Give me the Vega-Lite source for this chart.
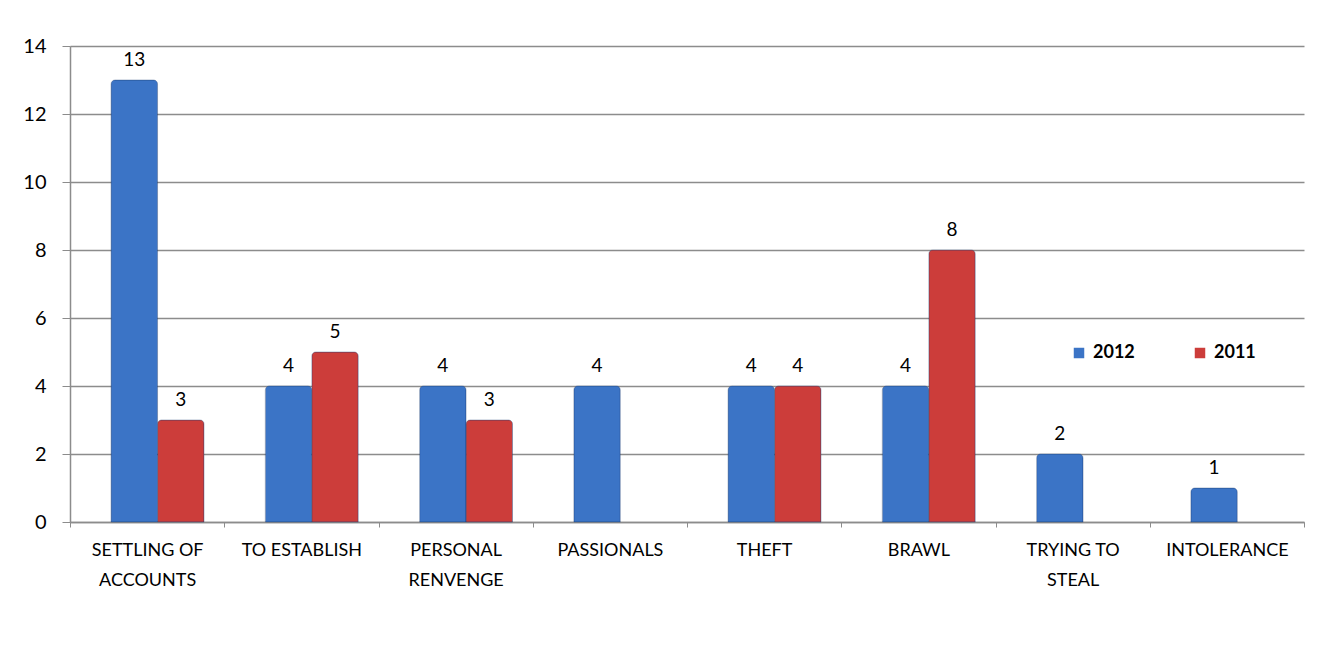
{
  "$schema": "https://vega.github.io/schema/vega-lite/v6.json",
  "width": 1234,
  "height": 476,
  "autosize": "none",
  "padding": {"left": 70, "top": 46, "right": 40, "bottom": 126},
  "background": "white",
  "config": {
    "font": "Lato",
    "view": {"stroke": null},
    "axis": {"labelFont": "Lato", "labelColor": "#000000"}
  },
  "data": {
    "values": [
      {"cause": "SETTLING OF|ACCOUNTS", "year": "2012", "count": 13},
      {"cause": "SETTLING OF|ACCOUNTS", "year": "2011", "count": 3},
      {"cause": "TO ESTABLISH", "year": "2012", "count": 4},
      {"cause": "TO ESTABLISH", "year": "2011", "count": 5},
      {"cause": "PERSONAL|RENVENGE", "year": "2012", "count": 4},
      {"cause": "PERSONAL|RENVENGE", "year": "2011", "count": 3},
      {"cause": "PASSIONALS", "year": "2012", "count": 4},
      {"cause": "THEFT", "year": "2012", "count": 4},
      {"cause": "THEFT", "year": "2011", "count": 4},
      {"cause": "BRAWL", "year": "2012", "count": 4},
      {"cause": "BRAWL", "year": "2011", "count": 8},
      {"cause": "TRYING TO|STEAL", "year": "2012", "count": 2},
      {"cause": "INTOLERANCE", "year": "2012", "count": 1}
    ]
  },
  "encoding": {
    "x": {
      "field": "cause",
      "type": "nominal",
      "sort": null,
      "scale": {"paddingInner": 0, "paddingOuter": 0},
      "axis": {
        "title": null,
        "labelAngle": 0,
        "labelExpr": "split(datum.label, '|')",
        "labelFontSize": 18,
        "labelPadding": 14,
        "labelLineHeight": 30,
        "labelBaseline": "top",
        "tickBand": "extent",
        "tickSize": 5,
        "tickColor": "#8c8c8c",
        "domainColor": "#8c8c8c",
        "domainWidth": 1.5,
        "grid": false
      }
    },
    "xOffset": {
      "field": "year",
      "type": "nominal",
      "sort": ["2012", "2011"],
      "scale": {"domain": ["2012", "2011"], "paddingInner": 0, "paddingOuter": 0.66, "align": 0.67}
    },
    "y": {
      "field": "count",
      "type": "quantitative",
      "scale": {"domain": [0, 14]},
      "axis": {
        "title": null,
        "values": [0, 2, 4, 6, 8, 10, 12, 14],
        "labelFontSize": 20,
        "labelPadding": 16,
        "tickSize": 8,
        "tickColor": "#8c8c8c",
        "domainColor": "#8c8c8c",
        "domainWidth": 1.5,
        "gridColor": "#8c8c8c",
        "gridWidth": 1.5
      }
    }
  },
  "layer": [
    {
      "mark": {"type": "bar", "cornerRadiusTopLeft": 4, "cornerRadiusTopRight": 4, "stroke": "#1f3f73", "strokeOpacity": 0.35, "strokeWidth": 1},
      "encoding": {
        "color": {
          "field": "year",
          "type": "nominal",
          "scale": {"domain": ["2012", "2011"], "range": ["#3b74c6", "#cc3d3a"]},
          "legend": {
            "title": null,
            "orient": "none",
            "legendX": 1000,
            "legendY": 298,
            "direction": "horizontal",
            "symbolType": "square",
            "symbolSize": 110,
            "symbolStrokeWidth": 0,
            "labelFontSize": 18,
            "labelFontWeight": "bold",
            "labelColor": "#000000",
            "columnPadding": 56,
            "labelOffset": 5
          }
        }
      }
    },
    {
      "mark": {"type": "text", "baseline": "bottom", "dy": -10, "fontSize": 19, "color": "#000000"},
      "encoding": {"text": {"field": "count", "type": "quantitative"}}
    }
  ]
}
